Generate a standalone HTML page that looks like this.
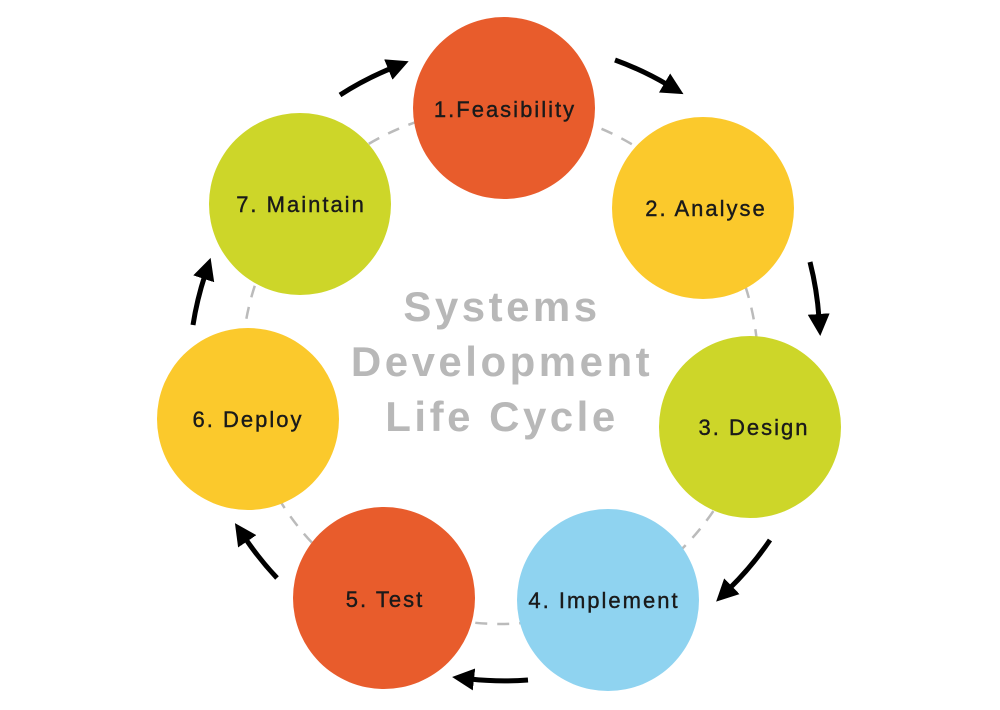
<!DOCTYPE html>
<html><head><meta charset="utf-8"><style>
html,body{margin:0;padding:0;background:#fff;}
svg{display:block;}
text{font-family:"Liberation Sans",sans-serif;}
</style></head><body>
<svg width="1000" height="710" viewBox="0 0 1000 710" xmlns="http://www.w3.org/2000/svg">
<defs>
<marker id="ah" markerUnits="userSpaceOnUse" markerWidth="26" markerHeight="26" refX="4" refY="11" orient="auto">
<path d="M0,0 L22,11 L0,22 Z" fill="#000"/>
</marker>
</defs>
<circle cx="500" cy="366" r="258" fill="none" stroke="#bbb" stroke-width="2.5" stroke-dasharray="12,10"/>
<g fill="none" stroke="#000" stroke-width="5" marker-end="url(#ah)">
<path d="M340,95 A317,317 0 0 1 392,68"/>
<path d="M615,60 A317,317 0 0 1 668,85"/>
<path d="M810,262 A317,317 0 0 1 819,318"/>
<path d="M770,540 A317,317 0 0 1 729,589"/>
<path d="M528,680 A317,317 0 0 1 470,679"/>
<path d="M277,578 A317,317 0 0 1 245,538"/>
<path d="M193,325 A317,317 0 0 1 205,275"/>
</g>
<circle cx="504" cy="108" r="91" fill="#E85C2C"/>
<circle cx="703" cy="208" r="91" fill="#FBC92C"/>
<circle cx="750" cy="427" r="91" fill="#CDD629"/>
<circle cx="608" cy="600" r="91" fill="#8FD3F0"/>
<circle cx="384" cy="598" r="91" fill="#E85C2C"/>
<circle cx="248" cy="419" r="91" fill="#FBC92C"/>
<circle cx="300" cy="204" r="91" fill="#CDD629"/>
<g font-size="22" fill="#1a1a1a" text-anchor="middle" letter-spacing="2" stroke="#1a1a1a" stroke-width="0.4">
<text x="505" y="117">1.Feasibility</text>
<text x="706" y="216">2. Analyse</text>
<text x="754" y="435">3. Design</text>
<text x="604" y="608">4. Implement</text>
<text x="385" y="607">5. Test</text>
<text x="248" y="427">6. Deploy</text>
<text x="301" y="212">7. Maintain</text>
</g>
<g font-size="42" font-weight="bold" fill="#b8b8b8" text-anchor="middle" letter-spacing="3.5">
<text x="502" y="321">Systems</text>
<text x="502" y="376">Development</text>
<text x="502" y="431">Life Cycle</text>
</g>
</svg>
</body></html>
